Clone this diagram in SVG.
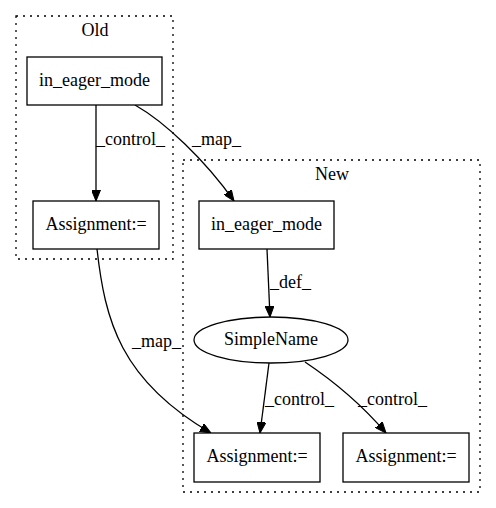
<svg xmlns="http://www.w3.org/2000/svg" width="496" height="508" viewBox="0 0 496 508">
<style>
text{font-family:"Liberation Serif","Times New Roman",serif;font-size:18px;fill:#000}
.c{fill:none;stroke:#000;stroke-dasharray:2,5;stroke-width:1.3}
.n{fill:#fff;stroke:#000;stroke-width:1.3}
.e{fill:none;stroke:#000;stroke-width:1.3}
</style>
<defs>
<marker id="a" markerWidth="11" markerHeight="9" refX="11" refY="4.5" orient="auto" markerUnits="userSpaceOnUse">
<polygon points="0,0 11,4.5 0,9" fill="#000" stroke="#000"/>
</marker>
</defs>
<rect width="496" height="508" fill="#fff"/>
<g id="cluster_old">
<rect class="c" x="16" y="16" width="157" height="243"/>
<text x="95" y="36" text-anchor="middle">Old</text>
</g>
<g id="cluster_new">
<rect class="c" x="183" y="160" width="297" height="332"/>
<text x="332" y="180" text-anchor="middle">New</text>
</g>
<g id="connectors">
<path class="e" d="M96,105 L96,201" marker-end="url(#a)"/>
<text x="96" y="145">_control_</text>
<path class="e" d="M135,105 C165,122 205,160 234,201" marker-end="url(#a)"/>
<text x="192" y="145">_map_</text>
<path class="e" d="M97,249 C105,320 120,380 211,433" marker-end="url(#a)"/>
<text x="132" y="347">_map_</text>
<path class="e" d="M267,249 L270,317" marker-end="url(#a)"/>
<text x="270" y="288">_def_</text>
<path class="e" d="M269,363 L260,433" marker-end="url(#a)"/>
<text x="265" y="405">_control_</text>
<path class="e" d="M305,362 C335,382 362,405 386,433" marker-end="url(#a)"/>
<text x="358" y="405">_control_</text>
</g>
<g id="old_in_eager_mode">
<rect class="n" x="27" y="57" width="135" height="48"/>
<text x="94.5" y="86" text-anchor="middle">in_eager_mode</text>
</g>
<g id="old_assignment">
<rect class="n" x="33" y="201" width="126" height="48"/>
<text x="96" y="230" text-anchor="middle">Assignment:=</text>
</g>
<g id="new_in_eager_mode">
<rect class="n" x="199" y="201" width="135" height="48"/>
<text x="266.5" y="230" text-anchor="middle">in_eager_mode</text>
</g>
<g id="new_simplename">
<ellipse class="n" cx="271" cy="340" rx="77" ry="23"/>
<text x="271" y="345" text-anchor="middle">SimpleName</text>
</g>
<g id="new_assignment_1">
<rect class="n" x="194" y="433" width="126" height="49"/>
<text x="257" y="462" text-anchor="middle">Assignment:=</text>
</g>
<g id="new_assignment_2">
<rect class="n" x="343" y="433" width="126" height="49"/>
<text x="406" y="462" text-anchor="middle">Assignment:=</text>
</g>
</svg>
